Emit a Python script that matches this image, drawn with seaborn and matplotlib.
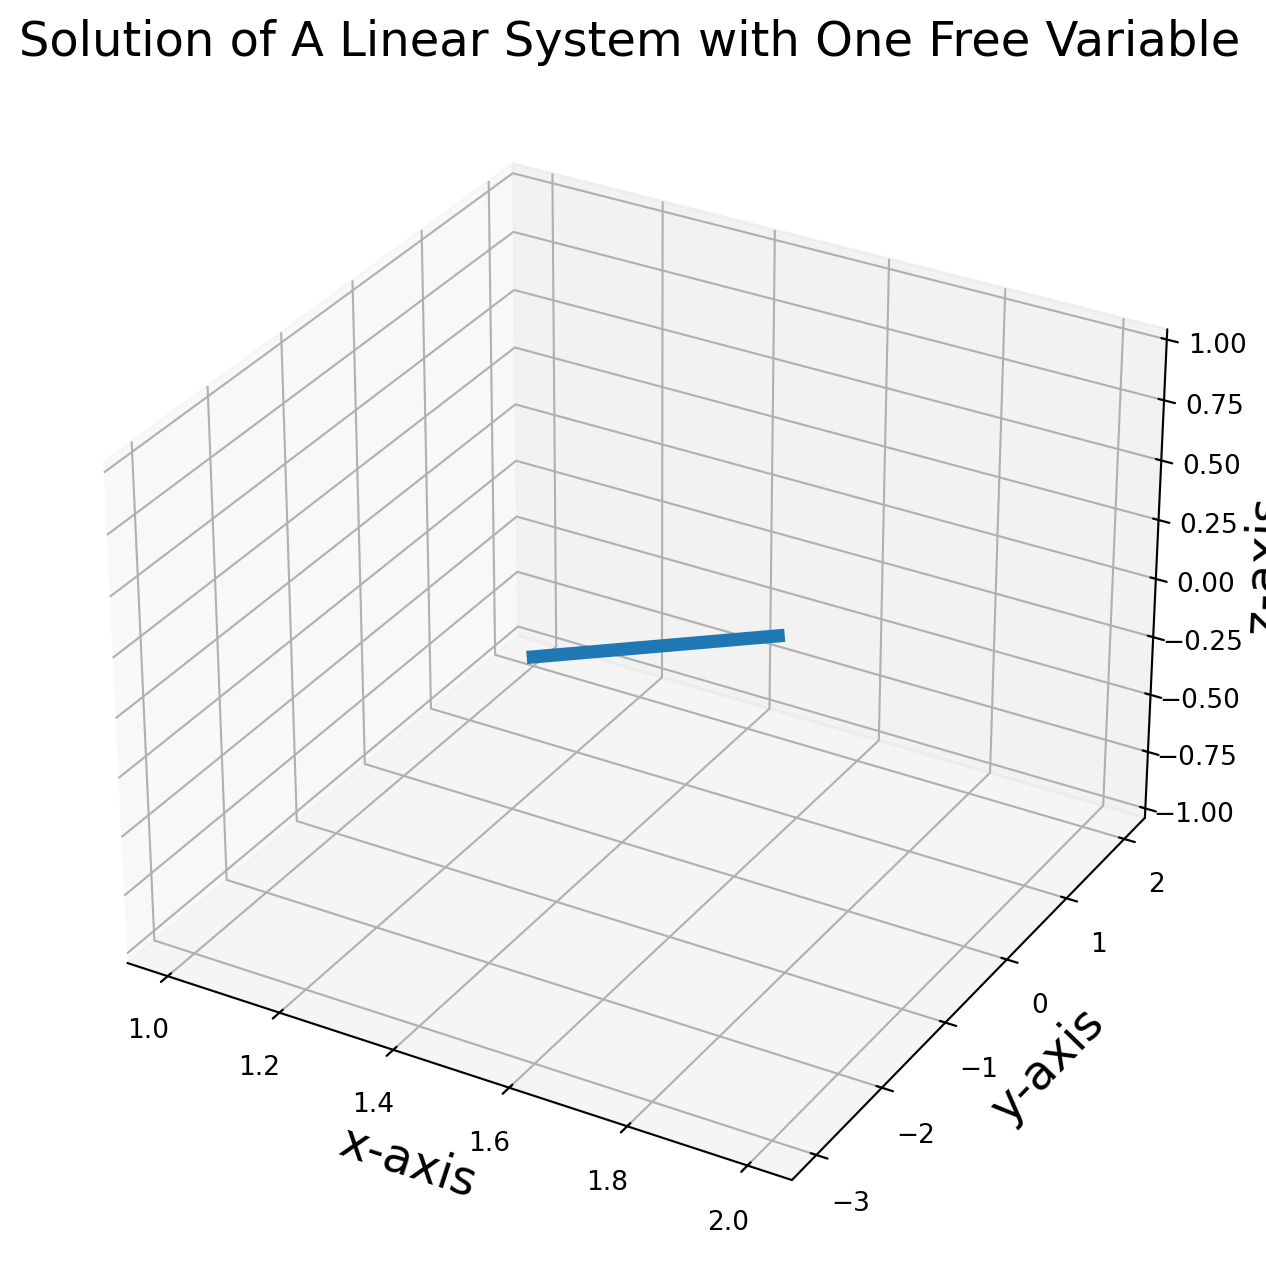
import numpy as np
import matplotlib
matplotlib.use('Agg')
import matplotlib.pyplot as plt
import seaborn as sns

# end points of the solution line
x_vals = [1, 2]
y_vals = [2, -3]
z_vals = [-1, 1]

sns.set_style('ticks')
sns.set_style({'axes.grid': True})
plt.rcParams['font.family'] = ['DejaVu Sans']
plt.rcParams['text.color'] = 'black'
plt.rcParams['axes.labelcolor'] = 'black'
plt.rcParams['xtick.color'] = 'black'
plt.rcParams['ytick.color'] = 'black'
plt.rcParams['grid.color'] = '#b0b0b0'
plt.rcParams['grid.linewidth'] = 0.76
plt.rcParams['axes.edgecolor'] = 'black'
plt.rcParams['axes.linewidth'] = 0.76
plt.rcParams['xtick.labelsize'] = 9.5
plt.rcParams['ytick.labelsize'] = 9.5

fig = plt.figure(figsize=(6.33, 6.37), dpi=200)
ax = fig.add_subplot(projection='3d')
ax.set_position([0.0301, 0.01515, 0.9344, 0.9285])

line_col = sns.color_palette('tab10')[0]
ax.plot(x_vals, y_vals, z_vals, lw=4.75, color=line_col, solid_capstyle='projecting')

ax.set_xlabel('x-axis', fontsize=17.2, labelpad=3)
ax.set_ylabel('y-axis', fontsize=17.2, labelpad=3)
ax.set_zlabel('z-axis', fontsize=17.2, labelpad=3)
ax.tick_params(axis='z', labelsize=9.5)
ax.tick_params(axis='both', pad=3)
ax.set_title('Solution of A Linear System with One Free Variable', fontsize=17.3, pad=5.6)

fig.savefig('out.png', dpi=200)
